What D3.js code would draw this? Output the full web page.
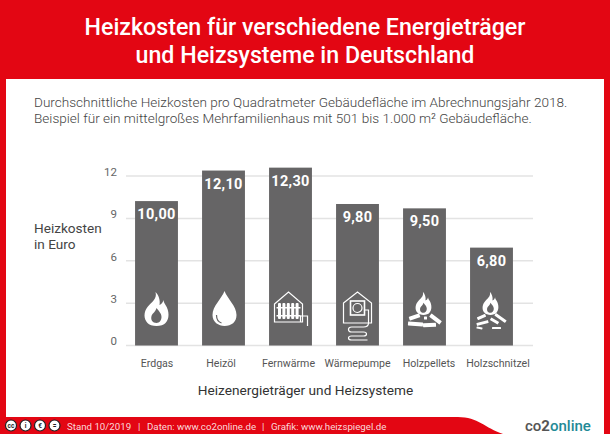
<!DOCTYPE html>
<html>
<head>
<meta charset="utf-8">
<script src="https://cdn.jsdelivr.net/npm/d3@7"></script>
<style>
  html, body { margin: 0; padding: 0; background: #fff; }
  svg { display: block; }
  text { font-family: Roboto, sans-serif; }
</style>
</head>
<body>
<div class="chart"></div>
<script>
const categories = ['Erdgas', 'Heizöl', 'Fernwärme', 'Wärmepumpe', 'Holzpellets', 'Holzschnitzel'];
const costs = [10.00, 12.10, 12.30, 9.80, 9.50, 6.80];
const icons = ['flame', 'drop', 'radiator', 'pump', 'pellets', 'chips'];
const yTicks = [0, 3, 6, 9, 12];
const titleLines = ['Heizkosten für verschiedene Energieträger', 'und Heizsysteme in Deutschland'];
const subtitleLines = [
  'Durchschnittliche Heizkosten pro Quadratmeter Gebäudefläche im Abrechnungsjahr 2018.',
  'Beispiel für ein mittelgroßes Mehrfamilienhaus mit 501 bis 1.000 m² Gebäudefläche.'
];
const footerParts = ['Stand 10/2019', '|', 'Daten: www.co2online.de', '|', 'Grafik: www.heizspiegel.de'];
const ccBadges = ['cc', 'by', 'nc', 'nd'];

const width = 610;
const height = 434;
const red = '#e30613';
const barColor = '#666566';

const svg = d3.select('.chart').append('svg')
  .attr('width', width)
  .attr('height', height);

// frame
svg.append('rect').attr('width', width).attr('height', height).attr('fill', red);
svg.append('path')
  .attr('fill', '#fff')
  .attr('d', 'M6,79H604V434H503C485,428 478,417 458,417H6Z');

svg.selectAll('.title')
  .data(titleLines)
  .enter()
  .append('text')
  .attr('class', 'title')
  .attr('x', 305)
  .attr('y', (d, i) => 35 + i * 28)
  .attr('text-anchor', 'middle')
  .attr('font-size', 23.2)
  .attr('font-weight', 500)
  .attr('fill', '#fff')
  .text(d => d);

svg.selectAll('.subtitle')
  .data(subtitleLines)
  .enter()
  .append('text')
  .attr('class', 'subtitle')
  .attr('x', 34)
  .attr('y', (d, i) => 107 + i * 16)
  .attr('font-size', 13.57)
  .attr('font-weight', 300)
  .attr('fill', '#444')
  .text(d => d);

// scales
const x = d3.scaleBand()
  .domain(categories)
  .range([123, 525])
  .paddingInner(0.36)
  .paddingOuter(0.18);

const y = d3.scaleLinear().domain([0, 12]).range([345.5, 176]);
// the bars in the original sit on a slightly taller scale than the gridlines
const barY = d3.scaleLinear().domain([0, 12]).range([346.5, 172]);

const yAxis = d3.axisLeft(y)
  .tickValues(yTicks)
  .tickSize(0)
  .tickPadding(0);

svg.selectAll('.grid')
  .data(yTicks)
  .enter()
  .append('line')
  .attr('class', 'grid')
  .attr('x1', 126)
  .attr('x2', 533)
  .attr('y1', d => y(d))
  .attr('y2', d => y(d))
  .attr('stroke', '#e3e3e3')
  .attr('stroke-width', 1.5);

const axisG = svg.append('g')
  .attr('transform', 'translate(117,0)')
  .call(yAxis);
axisG.select('.domain').remove();
axisG.selectAll('text')
  .attr('font-family', 'Roboto, sans-serif')
  .attr('font-size', 11.5)
  .attr('fill', '#666')
  .attr('dy', '-0.05em');

svg.selectAll('.y-title')
  .data(['Heizkosten', 'in Euro'])
  .enter()
  .append('text')
  .attr('class', 'y-title')
  .attr('x', 34)
  .attr('y', (d, i) => 233 + i * 16)
  .attr('font-size', 13.6)
  .attr('fill', '#444')
  .text(d => d);

svg.selectAll('.bar')
  .data(costs)
  .enter()
  .append('rect')
  .attr('class', 'bar')
  .attr('x', (d, i) => x(categories[i]))
  .attr('width', x.bandwidth())
  .attr('y', d => barY(d))
  .attr('height', d => y(0) - barY(d))
  .attr('fill', barColor);

svg.selectAll('.value-label')
  .data(costs)
  .enter()
  .append('text')
  .attr('class', 'value-label')
  .attr('x', (d, i) => x(categories[i]) + x.bandwidth() / 2)
  .attr('y', d => barY(d) + 18)
  .attr('text-anchor', 'middle')
  .attr('font-size', 14.5)
  .attr('font-weight', 700)
  .attr('letter-spacing', 0.3)
  .attr('fill', '#fff')
  .text(d => d.toFixed(2).replace('.', ','));

// the labels are spaced wider than the bars towards the right
const labelNudge = [0.5, -2.5, -2, 0, 4.5, 6.5];
svg.selectAll('.category-label')
  .data(categories)
  .enter()
  .append('text')
  .attr('class', 'category-label')
  .attr('x', (d, i) => x(d) + x.bandwidth() / 2 + labelNudge[i])
  .attr('y', 367)
  .attr('text-anchor', 'middle')
  .attr('font-size', 10.6)
  .attr('fill', '#555')
  .text(d => d);

svg.append('text')
  .attr('x', 305.5)
  .attr('y', 395)
  .attr('text-anchor', 'middle')
  .attr('font-size', 13.65)
  .attr('fill', '#333')
  .text('Heizenergieträger und Heizsysteme');

// icons, drawn around the middle of each bar
const flame = 'M-1,-18C1,-11 -5,-8 -9,-3C-13,2 -13,9 -9,13C-6,17 6,17 9,13C13,9 13,1 9,-5C8,-7 7,-8 7,-10C6,-7 5,-6 3,-5C4,-10 2,-15 -1,-18ZM0,13C-4,13 -6,10 -5,6C-4,3 -1,2 0,-2C2,1 5,3 5,7C5,10 3,13 0,13Z';

function drawSmallFlame(g) {
  g.append('path')
    .attr('transform', 'translate(-1,-6) scale(0.66,0.68)')
    .attr('fill', '#fff')
    .attr('fill-rule', 'evenodd')
    .attr('d', flame);
}

function drawPieces(g, pieces) {
  pieces.forEach(p => {
    g.append('rect')
      .attr('x', -p[2] / 2).attr('y', -p[3] / 2)
      .attr('width', p[2]).attr('height', p[3])
      .attr('rx', 0.5)
      .attr('transform', `translate(${p[0]},${p[1]}) rotate(${p[4]})`)
      .attr('fill', '#fff');
  });
}

const iconDraw = {
  flame: g => {
    g.append('path').attr('fill', '#fff').attr('fill-rule', 'evenodd').attr('d', flame);
  },
  drop: g => {
    g.append('path')
      .attr('fill', '#fff')
      .attr('d', 'M1,-19C-2,-11 -11,-4 -11,5C-11,12 -5,16 1,16C8,16 13,12 13,5C13,-4 4,-11 1,-19Z');
    g.append('path')
      .attr('fill', 'none')
      .attr('stroke', barColor)
      .attr('stroke-width', 1.2)
      .attr('d', 'M-7,5C-7,9 -5,12 -2,13');
  },
  radiator: g => {
    const line = g.append('g').attr('fill', 'none').attr('stroke', '#fff').attr('stroke-width', 1.2);
    line.append('path').attr('d', 'M-16,-6L-2,-18L12,-6V12H-16Z');
    line.append('path').attr('d', 'M10,12V6H17V16');
    d3.range(5).forEach(i => {
      g.append('rect')
        .attr('x', -12.5 + i * 4.4).attr('y', -7)
        .attr('width', 3).attr('height', 16)
        .attr('rx', 1)
        .attr('fill', '#fff');
    });
    g.append('rect').attr('x', -14).attr('y', -3).attr('width', 24).attr('height', 1.5).attr('fill', '#fff');
    g.append('rect').attr('x', -14).attr('y', 5).attr('width', 24).attr('height', 1.5).attr('fill', '#fff');
  },
  pump: g => {
    const line = g.append('g').attr('fill', 'none').attr('stroke', '#fff').attr('stroke-width', 1.2);
    line.append('path').attr('d', 'M-14,-7L0,-18L14,-7V13H-14Z');
    line.append('rect').attr('x', -7).attr('y', -9).attr('width', 14).attr('height', 14).attr('stroke-width', 1.6);
    line.append('circle').attr('cx', 0).attr('cy', -2).attr('r', 4.5);
    line.append('path').attr('d', 'M7,0H11V13C11,16 9,17 6,17H-6C-10,17 -10,22 -6,22H6C10,22 10,26 6,26H-6C-10,26 -10,30 -6,30H10');
  },
  pellets: g => {
    drawSmallFlame(g);
    drawPieces(g, [[-10, 7, 11, 4, -18], [11, 9, 13, 4, 38], [-9, 14, 15, 4, 5], [5, 15, 13, 4, -3], [1, 8, 3, 3, 0]]);
  },
  chips: g => {
    drawSmallFlame(g);
    drawPieces(g, [[-10, 7, 9, 3, -25], [9, 8, 13, 3, 35], [-9, 13, 12, 3, -15], [3, 11, 9, 3, 30], [5, 18, 9, 1.8, 0], [-12, 18, 6, 2, 10]]);
  }
};

svg.selectAll('.icon')
  .data(icons)
  .enter()
  .append('g')
  .attr('class', 'icon')
  .attr('transform', (d, i) => `translate(${x(categories[i]) + x.bandwidth() / 2},310)`)
  .each(function(d) { iconDraw[d](d3.select(this)); });

// footer
const badge = svg.selectAll('.badge')
  .data(ccBadges)
  .enter()
  .append('g')
  .attr('class', 'badge')
  .attr('transform', (d, i) => `translate(${11 + i * 14.5},425.5)`);
badge.append('circle').attr('r', 5.5).attr('fill', '#fff').attr('stroke', '#222').attr('stroke-width', 1.2);
badge.append('text')
  .attr('text-anchor', 'middle')
  .attr('y', 2.5)
  .attr('font-size', 6.5)
  .attr('font-weight', 700)
  .attr('fill', '#222')
  .text(d => ({cc: 'cc', by: 'i', nc: '€', nd: '='})[d]);

const footerX = [67, 138, 147, 262, 271];
svg.selectAll('.footer')
  .data(footerParts)
  .enter()
  .append('text')
  .attr('class', 'footer')
  .attr('x', (d, i) => footerX[i])
  .attr('y', 430)
  .attr('font-size', 9.7)
  .attr('fill', '#fff')
  .attr('fill-opacity', 0.85)
  .text(d => d);

const logo = svg.append('text')
  .attr('x', 525)
  .attr('y', 431)
  .attr('font-size', 15)
  .attr('font-weight', 500);
logo.append('tspan').attr('fill', '#555').text('co');
logo.append('tspan').attr('fill', '#555').attr('font-weight', 700).text('2');
logo.append('tspan').attr('fill', '#1f8a96').text('online');
</script>
</body>
</html>
